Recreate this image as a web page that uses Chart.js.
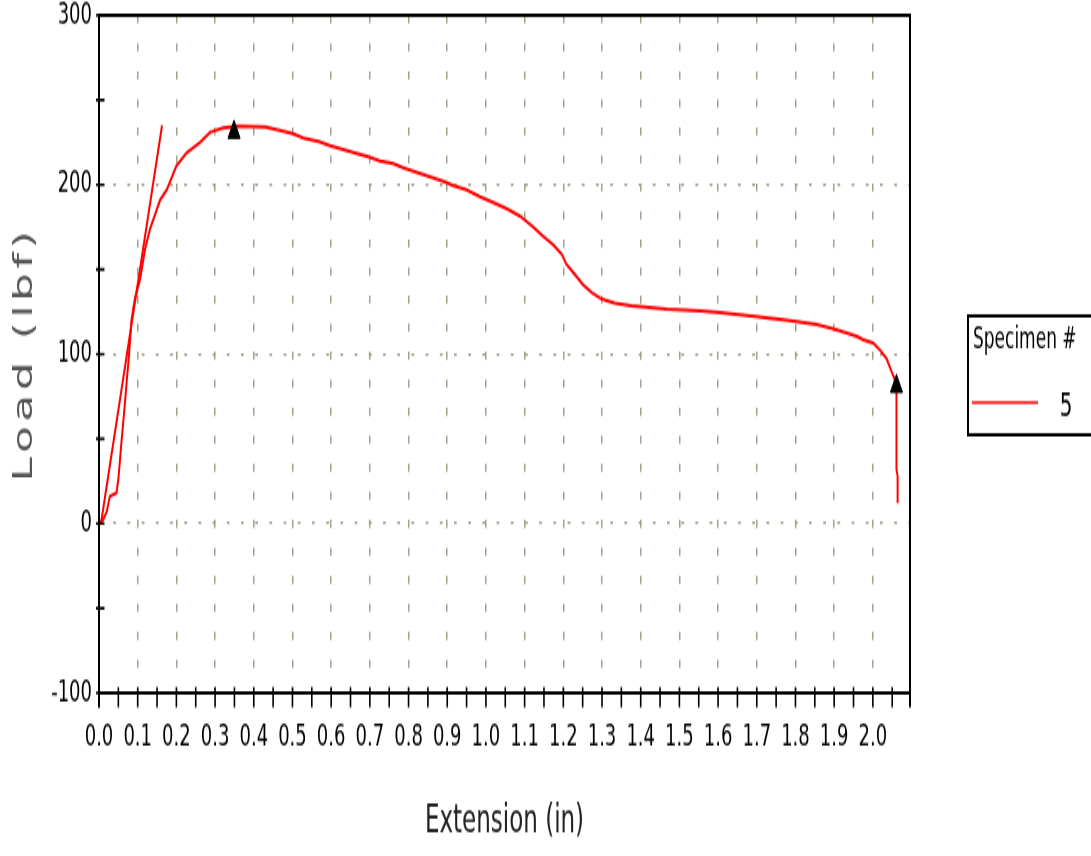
<!DOCTYPE html>
<html><head><meta charset="utf-8">
<script src="https://cdn.jsdelivr.net/npm/chart.js@4.4.0/dist/chart.umd.min.js"></script>
<style>
html,body{margin:0;padding:0;background:#fff}
body{width:1091px;height:856px;overflow:hidden;position:relative}
#wrap{position:absolute;left:0;top:0;width:1091px;height:504px;transform:scaleY(1.6984);transform-origin:0 0}
#c{display:block}
</style></head>
<body><div id="wrap"><canvas id="c" width="1091" height="504" style="width:1091px;height:504px"></canvas></div>
<script>
// ---- data ----
const extension = [0,0.01,0.02,0.028,0.045,0.05,0.058,0.067,0.072,0.077,0.084,0.093,0.106,0.119,0.132,0.158,0.175,0.2,0.227,0.261,0.287,0.321,0.36,0.43,0.468,0.502,0.528,0.567,0.597,0.627,0.657,0.696,0.726,0.76,0.786,0.812,0.838,0.864,0.89,0.916,0.95,0.984,1.019,1.053,1.088,1.122,1.148,1.174,1.196,1.208,1.23,1.251,1.273,1.299,1.333,1.376,1.467,1.553,1.605,1.704,1.794,1.854,1.897,1.932,1.958,1.975,2.001,2.02,2.035,2.048,2.057,2.061,2.061,2.064,2.064];
const load = [0,2,7,16,18,26,48,71,85,98,120,133,144,162,174,191,197,211,219,225,231,233.5,234.5,234,232,230,227.5,225.5,223,221,219,216.5,214,212.5,210,208,206,204,202,199.5,197,193,189.5,186,181.5,175,169.5,164.5,159,153,147,141,136.5,132.5,130,128.5,126.5,125.5,124.5,122,119.5,117.5,115,112.5,110.5,108.5,106.5,102,97.5,90,85,84,32,28,12];
const modulusExtension = [0.005, 0.163];
const modulusLoad = [0, 235];
const markerExtension = [0.349, 2.061];
const markerLoad = [231, 81];
const specimenLabel = '5';
const legendTitle = 'Specimen #';
const xTitle = 'Extension (in)';
const yTitle = 'Load (lbf)';
const xTickValues = [0,0.05,0.1,0.15,0.2,0.25,0.3,0.35,0.4,0.45,0.5,0.55,0.6,0.65,0.7,0.75,0.8,0.85,0.9,0.95,1.0,1.05,1.1,1.15,1.2,1.25,1.3,1.35,1.4,1.45,1.5,1.55,1.6,1.65,1.7,1.75,1.8,1.85,1.9,1.95,2.0,2.05];
const xLabelValues = [0,0.1,0.2,0.3,0.4,0.5,0.6,0.7,0.8,0.9,1.0,1.1,1.2,1.3,1.4,1.5,1.6,1.7,1.8,1.9,2.0];
const yTickValues = [-100,-50,0,50,100,150,200,250,300];
const yLabelValues = [-100,0,100,200,300];
const yGridValues = [0,100,200];
const xMin = 0, xMax = 2.096, yMin = -100, yMax = 300;

const GRID = '#a4a08c';
const RED = '#ff0000';
const FONT = 'DejaVu Sans';

const near = (v, arr) => arr.some(a => Math.abs(a - v) < 1e-6);

const framePlugin = {
  id: 'frame',
  beforeDraw(chart) {
    const ys = chart.scales.y;
    if (ys && !ys._spacedTitle) {
      const orig = ys.drawTitle;
      ys.drawTitle = function () {
        const c = this.ctx;
        const prev = c.letterSpacing;
        c.letterSpacing = '2.6px';
        orig.call(this);
        c.letterSpacing = prev || '0px';
      };
      ys._spacedTitle = true;
    }
  },
  afterDraw(chart) {
    const {ctx, chartArea: a, scales: {x, y}} = chart;
    ctx.save();
    ctx.strokeStyle = '#000';
    ctx.lineWidth = 1.6;
    ctx.beginPath();
    x.ticks.forEach(t => {
      const px = x.getPixelForValue(t.value);
      ctx.moveTo(px, a.bottom - 3.4); ctx.lineTo(px, a.bottom + 8.4);
    });
    ctx.stroke();
    ctx.beginPath();
    y.ticks.forEach(t => {
      const py = y.getPixelForValue(t.value);
      ctx.moveTo(a.left - 3, py); ctx.lineTo(a.left + 5.5, py);
    });
    ctx.stroke();
    ctx.lineWidth = 2;
    ctx.beginPath();
    ctx.moveTo(a.left, a.bottom + 8.4); ctx.lineTo(a.left, a.top);
    ctx.lineTo(a.right, a.top); ctx.lineTo(a.right, a.bottom + 8.4);
    ctx.stroke();
    ctx.lineWidth = 2;
    ctx.beginPath(); ctx.moveTo(a.left - 1, a.bottom); ctx.lineTo(a.right + 1, a.bottom); ctx.stroke();

    // legend
    const ds = chart.data.datasets.find(d => d.id === 'main');
    ctx.lineWidth = 2;
    ctx.strokeStyle = '#000';
    ctx.strokeRect(968, 186, 140, 70);
    ctx.fillStyle = '#000';
    ctx.textBaseline = 'middle';
    ctx.textAlign = 'left';
    ctx.font = `17px "${FONT}"`;
    ctx.fillText(legendTitle, 973, 201);
    ctx.strokeStyle = ds.borderColor;
    ctx.lineWidth = 1.5;
    ctx.beginPath(); ctx.moveTo(972, 237); ctx.lineTo(1038, 237); ctx.stroke();
    ctx.font = `20px "${FONT}"`;
    ctx.textAlign = 'center';
    ctx.fillText(ds.label, 1066, 240);
    ctx.restore();
  }
};

const toXY = (xs, ys) => xs.map((v, i) => ({x: v, y: ys[i]}));

new Chart(document.getElementById('c'), {
  type: 'scatter',
  data: {
    datasets: [
      {id: 'markers', label: 'markers', data: toXY(markerExtension, markerLoad), showLine: false,
       pointStyle: 'triangle', pointRadius: 7, backgroundColor: '#000', borderColor: '#000', borderWidth: 1, order: 0},
      {id: 'main', label: specimenLabel, data: toXY(extension, load), showLine: true, borderColor: RED,
       borderWidth: 2, pointRadius: 0, tension: 0, order: 1},
      {id: 'modulus', label: 'modulus', data: toXY(modulusExtension, modulusLoad), showLine: true, borderColor: RED,
       borderWidth: 2, pointRadius: 0, order: 2}
    ]
  },
  options: {
    responsive: false,
    devicePixelRatio: 1,
    animation: false,
    events: [],
    layout: {padding: {top: 9, right: 181, bottom: 0, left: 0}},
    plugins: {legend: {display: false}, tooltip: {enabled: false}},
    scales: {
      x: {
        type: 'linear', min: xMin, max: xMax,
        afterFit(s) { s.height = 96; },
        afterBuildTicks(s) { s.ticks = xTickValues.map(v => ({value: v})); },
        grid: {
          drawTicks: false, lineWidth: 1.5,
          color: c => (c.tick && near(c.tick.value, xLabelValues) && c.tick.value > 0.01) ? GRID : 'rgba(0,0,0,0)'
        },
        border: {display: false, dash: [4.7, 11.8]},
        ticks: {
          autoSkip: false, maxRotation: 0, minRotation: 0, padding: 16, color: '#000',
          font: {family: FONT, size: 18},
          callback: v => near(v, xLabelValues) ? v.toFixed(1) : ''
        },
        title: {display: true, text: xTitle, color: '#222', font: {family: FONT, size: 23}, padding: {top: 0, bottom: 6}}
      },
      y: {
        type: 'linear', min: yMin, max: yMax,
        afterFit(s) { s.width = 99; },
        afterBuildTicks(s) { s.ticks = yTickValues.map(v => ({value: v})); },
        grid: {
          drawTicks: false, lineWidth: 1.6,
          color: c => (c.tick && near(c.tick.value, yGridValues)) ? GRID : 'rgba(0,0,0,0)'
        },
        border: {display: false, dash: [2.8, 11.4]},
        ticks: {
          autoSkip: false, padding: 7, color: '#000',
          font: {family: FONT, size: 18, lineHeight: 0.2},
          callback: v => near(v, yLabelValues) ? String(v) : ''
        },
        title: {display: true, text: yTitle, color: '#555', font: {family: FONT, size: 26}, padding: {top: 9.4, bottom: 0}}
      }
    }
  },
  plugins: [framePlugin]
});
</script>
</body></html>
